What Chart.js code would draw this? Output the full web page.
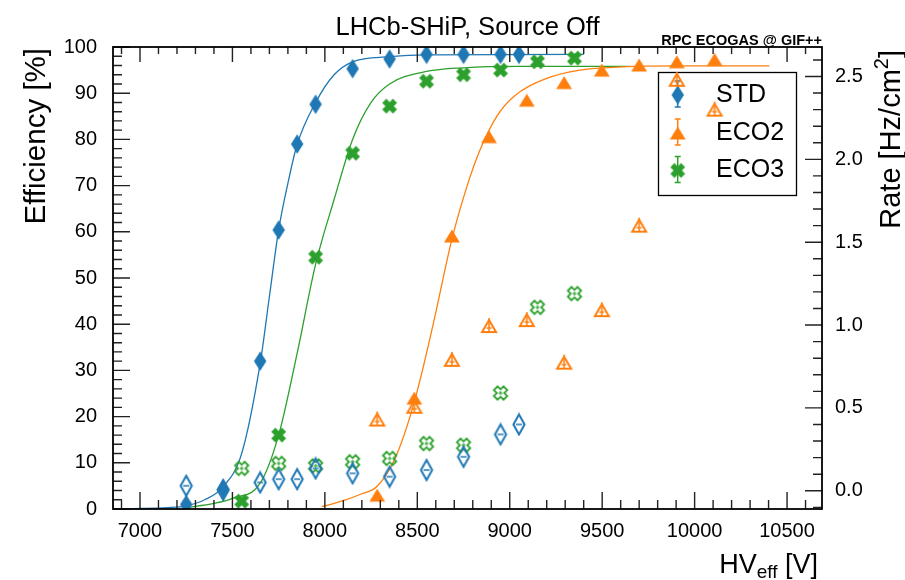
<!DOCTYPE html>
<html>
<head>
<meta charset="utf-8">
<script src="https://cdn.jsdelivr.net/npm/chart.js@4.4.1/dist/chart.umd.min.js"></script>
<style>
  body { margin: 0; background: #fff; }
  #wrap { width: 905px; height: 580px; position: relative; }
</style>
</head>
<body>
<div id="wrap"><canvas id="myChart"></canvas></div>
<script>
// measured points, HV_eff in V, efficiency in %, rate in Hz/cm2
const stdHV = [7250, 7450, 7650, 7750, 7850, 7950, 8150, 8350, 8550, 8750, 8950, 9050];
const stdEff = [1, 4.3, 32, 60.4, 79, 87.6, 95.3, 97.4, 98.4, 98.4, 98.4, 98.4];
const stdRate = [0.03, 0.005, 0.05, 0.07, 0.07, 0.135, 0.105, 0.085, 0.125, 0.205, 0.34, 0.40];

const eco2HV = [8283, 8484, 8687, 8888, 9092, 9294, 9498, 9700, 9904, 10108];
const eco2Eff = [3, 24, 59.1, 80.6, 88.5, 92.3, 95, 96.1, 96.8, 97.3];
const eco2Rate = [0.43, 0.507, 0.79, 0.994, 1.03, 0.773, 1.09, 1.6, 2.48, 2.30];

const eco3HV = [7550, 7750, 7950, 8150, 8350, 8550, 8750, 8950, 9150, 9350];
const eco3Eff = [1.7, 16, 54.5, 77, 87.2, 92.6, 94, 95, 96.8, 97.6];
const eco3Rate = [0.135, 0.165, 0.15, 0.175, 0.195, 0.285, 0.275, 0.59, 1.107, 1.19];

// fit curves
const stdFitHV = [6950, 7150, 7250, 7350, 7450, 7550, 7650, 7700, 7750, 7800, 7850, 7950, 8050, 8150, 8350, 8550, 9400];
const stdFitEff = [0.1, 0.3, 0.7, 2, 4.8, 12, 31.5, 46, 60.4, 70.5, 78.9, 88, 94, 96.8, 97.9, 98.3, 98.4];
const eco3FitHV = [7250, 7400, 7500, 7650, 7750, 7850, 7950, 8050, 8150, 8250, 8350, 8550, 8750, 9050, 9650];
const eco3FitEff = [0.3, 1.2, 2.3, 5.6, 16, 33.7, 53, 67, 80, 88, 92, 94.7, 95.5, 95.8, 95.8];
const eco2FitHV = [7983, 8100, 8200, 8280, 8380, 8484, 8586, 8686, 8770, 8839, 8930, 9019, 9200, 9380, 9560, 9920, 10404];
const eco2FitEff = [0.5, 1.8, 3.3, 4.8, 11, 23.2, 40, 58.2, 70, 77.7, 85, 89.2, 93.2, 95, 95.6, 95.9, 95.9];

const xTicks = [7000, 7500, 8000, 8500, 9000, 9500, 10000, 10500];
const effTicks = [0, 10, 20, 30, 40, 50, 60, 70, 80, 90, 100];
const rateTicks = [0, 0.5, 1.0, 1.5, 2.0, 2.5];

const BLUE = '#1f77b4';
const ORANGE = '#ff7f0e';
const GREEN = '#2ca02c';
const FONT = "'Liberation Sans', Arial, sans-serif";

Chart.defaults.font.family = FONT;
Chart.defaults.color = '#000';

// ---- marker images ----
function makeMarker(w, h, draw) {
    const c = document.createElement('canvas');
    c.width = w;
    c.height = h;
    draw(c.getContext('2d'), w / 2, h / 2);
    return c;
}

function diamondPath(g, cx, cy, hw, hh) {
    g.beginPath();
    g.moveTo(cx, cy - hh);
    g.lineTo(cx + hw, cy);
    g.lineTo(cx, cy + hh);
    g.lineTo(cx - hw, cy);
    g.closePath();
}

function trianglePath(g, cx, cy, hw, hh) {
    g.beginPath();
    g.moveTo(cx, cy - hh);
    g.lineTo(cx + hw, cy + hh);
    g.lineTo(cx - hw, cy + hh);
    g.closePath();
}

function crossPath(g, cx, cy, L, t) {
    const pts = [[t, L], [t, t], [L, t], [L, -t], [t, -t], [t, -L], [-t, -L], [-t, -t], [-L, -t], [-L, t], [-t, t], [-t, L]];
    const c = Math.SQRT1_2;
    g.beginPath();
    pts.forEach((p, i) => {
        const x = cx + (p[0] - p[1]) * c;
        const y = cy + (p[0] + p[1]) * c;
        if (i === 0) g.moveTo(x, y); else g.lineTo(x, y);
    });
    g.closePath();
}

const stdFull = makeMarker(14, 22, (g, cx, cy) => {
    diamondPath(g, cx, cy, 6.2, 9.8);
    g.fillStyle = BLUE;
    g.fill();
});
const stdOpen = makeMarker(16, 24, (g, cx, cy) => {
    diamondPath(g, cx, cy, 5.6, 10);
    g.strokeStyle = BLUE;
    g.lineWidth = 2;
    g.stroke();
    g.lineWidth = 1.5;
    g.beginPath();
    g.moveTo(cx - 3, cy);
    g.lineTo(cx + 3, cy);
    g.stroke();
});
const eco2Full = makeMarker(18, 16, (g, cx, cy) => {
    trianglePath(g, cx, cy, 7.9, 6.6);
    g.fillStyle = ORANGE;
    g.fill();
});
const eco2Open = makeMarker(20, 18, (g, cx, cy) => {
    trianglePath(g, cx, cy, 7, 6);
    g.strokeStyle = ORANGE;
    g.lineWidth = 2;
    g.stroke();
    g.lineWidth = 1.5;
    g.beginPath();
    g.moveTo(cx, cy - 8);
    g.lineTo(cx, cy + 6);
    g.moveTo(cx - 2.5, cy + 2);
    g.lineTo(cx + 2.5, cy + 2);
    g.stroke();
});
const eco3Full = makeMarker(18, 18, (g, cx, cy) => {
    crossPath(g, cx, cy, 7.6, 2.9);
    g.fillStyle = GREEN;
    g.fill();
});
const eco3Open = makeMarker(18, 18, (g, cx, cy) => {
    crossPath(g, cx, cy, 6.8, 2.6);
    g.strokeStyle = GREEN;
    g.lineWidth = 1.8;
    g.stroke();
    g.lineWidth = 1.2;
    g.beginPath();
    g.moveTo(cx - 2, cy);
    g.lineTo(cx + 2, cy);
    g.moveTo(cx, cy - 2);
    g.lineTo(cx, cy + 2);
    g.stroke();
});

function toPoints(xs, ys) {
    return xs.map((x, i) => ({ x: x, y: ys[i] }));
}

function markerSet(label, xs, ys, img, axis) {
    return {
        label: label,
        data: toPoints(xs, ys),
        pointStyle: img,
        pointRadius: 6,
        showLine: false,
        yAxisID: axis
    };
}

function fitSet(xs, ys, color) {
    return {
        label: '',
        data: toPoints(xs, ys),
        showLine: true,
        borderColor: color,
        borderWidth: 1.3,
        pointRadius: 0,
        cubicInterpolationMode: 'monotone',
        yAxisID: 'y'
    };
}

// ---- frame, inward ticks, titles, legend ----
function drawText(ctx, parts, x, y, rotate) {
    ctx.save();
    ctx.translate(x, y);
    if (rotate) ctx.rotate(-Math.PI / 2);
    let total = 0;
    parts.forEach(p => {
        ctx.font = (p.bold ? 'bold ' : '') + p.size + 'px ' + FONT;
        total += ctx.measureText(p.text).width;
    });
    let pos = -total;
    ctx.textBaseline = 'alphabetic';
    ctx.textAlign = 'left';
    ctx.fillStyle = '#000';
    parts.forEach(p => {
        ctx.font = (p.bold ? 'bold ' : '') + p.size + 'px ' + FONT;
        ctx.fillText(p.text, pos, p.dy || 0);
        pos += ctx.measureText(p.text).width;
    });
    ctx.restore();
}

const rootFrame = {
    id: 'rootFrame',
    beforeDatasetsDraw(chart) {
        const ctx = chart.ctx;
        const legendRows = [
            { text: 'STD', img: stdFull, y: 95, color: BLUE },
            { text: 'ECO2', img: eco2Full, y: 133, color: ORANGE },
            { text: 'ECO3', img: eco3Full, y: 170.5, color: GREEN }
        ];
        ctx.save();
        ctx.strokeStyle = '#000';
        ctx.lineWidth = 1.3;
        ctx.strokeRect(658.5, 72.5, 138, 123);
        legendRows.forEach(r => {
            const mx = 677.7;
            ctx.strokeStyle = r.color;
            ctx.lineWidth = 1.5;
            ctx.beginPath();
            ctx.moveTo(mx, r.y - 14);
            ctx.lineTo(mx, r.y + 12);
            ctx.moveTo(mx - 3, r.y - 14);
            ctx.lineTo(mx + 3, r.y - 14);
            ctx.moveTo(mx - 3, r.y + 12);
            ctx.lineTo(mx + 3, r.y + 12);
            ctx.stroke();
            ctx.drawImage(r.img, mx - r.img.width / 2, r.y - r.img.height / 2);
            ctx.fillStyle = '#000';
            ctx.font = '25px ' + FONT;
            ctx.textAlign = 'left';
            ctx.textBaseline = 'middle';
            ctx.fillText(r.text, 716, r.y);
        });
        ctx.restore();
    },
    afterDatasetsDraw(chart) {
        const ctx = chart.ctx;
        const a = chart.chartArea;
        const x = chart.scales.x;
        const y = chart.scales.y;
        const r = chart.scales.rate;
        ctx.save();
        ctx.strokeStyle = '#222';
        ctx.lineWidth = 1.4;
        ctx.beginPath();
        for (let v = 6900; v <= 10600; v += 100) {
            const px = x.getPixelForValue(v);
            const len = v % 500 === 0 ? 17 : 9;
            ctx.moveTo(px, a.bottom);
            ctx.lineTo(px, a.bottom - len);
            ctx.moveTo(px, a.top);
            ctx.lineTo(px, a.top + len - 2);
        }
        for (let v = 0; v <= 100; v += 2) {
            const py = y.getPixelForValue(v);
            const len = v % 10 === 0 ? 17 : 9;
            ctx.moveTo(a.left, py);
            ctx.lineTo(a.left + len, py);
        }
        for (let k = -1; k <= 26; k++) {
            const py = r.getPixelForValue(k / 10);
            const len = k % 5 === 0 ? 17 : 9;
            ctx.moveTo(a.right, py);
            ctx.lineTo(a.right - len, py);
        }
        ctx.stroke();
        ctx.strokeStyle = '#000';
        ctx.lineWidth = 1.8;
        ctx.strokeRect(a.left, a.top, a.right - a.left, a.bottom - a.top);
        ctx.restore();

        const mid = (a.left + a.right) / 2;
        ctx.save();
        ctx.fillStyle = '#000';
        ctx.font = '25.5px ' + FONT;
        ctx.textAlign = 'center';
        ctx.textBaseline = 'alphabetic';
        ctx.fillText('LHCb-SHiP, Source Off', mid, 35);
        ctx.restore();
        drawText(ctx, [{ text: 'RPC ECOGAS @ GIF++', size: 14.5, bold: true }], a.right, 45, false);
        drawText(ctx, [{ text: 'Efficiency [%]', size: 29.5 }], 45, 48, true);
        drawText(ctx, [
            { text: 'Rate [Hz/cm', size: 29 },
            { text: '2', size: 20, dy: -12 },
            { text: ']', size: 29 }
        ], 900, 50, true);
        drawText(ctx, [
            { text: 'HV', size: 27 },
            { text: 'eff', size: 19, dy: 5 },
            { text: ' [V]', size: 27 }
        ], 818, 573, false);
    }
};

const ctx = document.getElementById('myChart');

new Chart(ctx, {
    type: 'scatter',
    data: {
        datasets: [
            markerSet('STD', stdHV, stdEff, stdFull, 'y'),
            markerSet('ECO2', eco2HV, eco2Eff, eco2Full, 'y'),
            markerSet('ECO3', eco3HV, eco3Eff, eco3Full, 'y'),
            markerSet('STD rate', stdHV, stdRate, stdOpen, 'rate'),
            markerSet('ECO2 rate', eco2HV, eco2Rate, eco2Open, 'rate'),
            markerSet('ECO3 rate', eco3HV, eco3Rate, eco3Open, 'rate'),
            fitSet(stdFitHV, stdFitEff, BLUE),
            fitSet(eco2FitHV, eco2FitEff, ORANGE),
            fitSet(eco3FitHV, eco3FitEff, GREEN)
        ]
    },
    options: {
        responsive: true,
        maintainAspectRatio: false,
        animation: false,
        layout: { padding: { top: 47, left: 0, right: 0, bottom: 0 } },
        plugins: {
            legend: { display: false },
            tooltip: { enabled: false }
        },
        scales: {
            x: {
                type: 'linear',
                position: 'bottom',
                min: 6854,
                max: 10689,
                grid: { display: false, drawTicks: false },
                border: { display: false },
                afterBuildTicks: s => { s.ticks = xTicks.map(v => ({ value: v })); },
                afterFit: s => { s.height = 71; },
                ticks: { font: { size: 20 }, padding: 10, maxRotation: 0, autoSkip: false, callback: v => String(v) }
            },
            y: {
                position: 'left',
                min: 0,
                max: 100,
                grid: { display: false, drawTicks: false },
                border: { display: false },
                afterBuildTicks: s => { s.ticks = effTicks.map(v => ({ value: v })); },
                afterFit: s => { s.width = 113; },
                ticks: { font: { size: 20 }, padding: 16 }
            },
            rate: {
                position: 'right',
                min: -0.11,
                max: 2.678,
                grid: { display: false, drawTicks: false },
                border: { display: false },
                afterBuildTicks: s => { s.ticks = rateTicks.map(v => ({ value: v })); },
                afterFit: s => { s.width = 83; },
                ticks: { font: { size: 20 }, padding: 13, callback: v => v.toFixed(1) }
            }
        }
    },
    plugins: [rootFrame]
});
</script>
</body>
</html>
